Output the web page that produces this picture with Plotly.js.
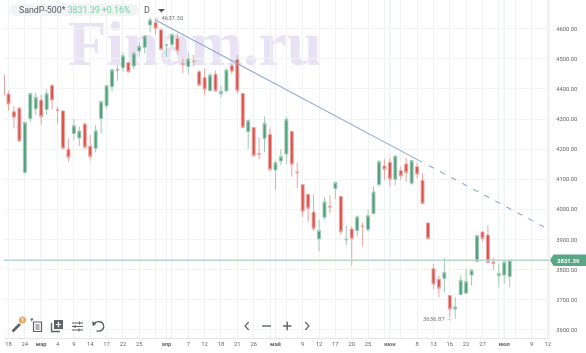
<!DOCTYPE html>
<html><head><meta charset="utf-8">
<script src="https://cdn.plot.ly/plotly-3.0.1.min.js"></script>
<style>
html,body{margin:0;padding:0;background:#fff;overflow:hidden}
#wrap{position:relative;width:586px;height:353px;filter:blur(0.4px)}
#wm{position:absolute;left:68px;top:4px;font:bold 63px/80px "Liberation Serif",serif;letter-spacing:0;color:#e8e2f4;white-space:nowrap}
#chart{position:absolute;left:0;top:0;width:586px;height:353px}
</style></head>
<body><div id="wrap"><div id="wm">Finam.ru</div><div id="chart"></div></div>
<script>
const opens=[4446,4383,4324,4336,4123,4302,4334,4363,4332,4411,
4331,4327,4200,4252,4237,4283,4210,4203,4302,4344,
4407,4462,4470,4487,4476,4526,4538,4612,4620,4596,
4545,4548,4568,4484,4474,4493,4457,4437,4394,4449,
4384,4393,4477,4498,4385,4258,4272,4185,4236,4249,
4131,4161,4184,4259,4124,4082,4050,3991,3902,3974,
4010,4069,4043,3899,3935,3930,3945,3933,3986,4083,
4144,4156,4100,4129,4151,4087,4142,4096,3955,3803,
3768,3771,3714,3669,3717,3722,3782,3827,3925,3915,
3825,3780,3782,3777];
const highs=[4446,4394,4343,4341,4291,4385,4388,4380,4399,4416,
4341,4327,4236,4300,4275,4289,4247,4280,4358,4411,
4468,4479,4521,4490,4524,4557,4579,4637.3,4629,4601,
4551,4585,4585,4502,4521,4513,4463,4468,4454,4461,
4410,4468,4485,4513,4385,4299,4272,4239,4308,4269,
4161,4200,4308,4259,4156,4082,4050,4049,3966,4041,
4047,4090,4043,3946,3944,3980,3957,3999,4077,4164,
4167,4170,4177,4142,4170,4164,4156,4121,3958,3819,
3780,3839,3714,3709,3780,3803,3803,3913,3927,3946,
3839,3820,3831,3832];
const lows=[4380,4328,4269,4225,4118,4289,4313,4280,4313,4332,
4286,4199,4158,4230,4210,4200,4162,4189,4252,4336,
4391,4427,4457,4454,4465,4507,4518,4588,4579,4529,
4507,4538,4513,4452,4449,4474,4410,4380,4394,4391,
4372,4393,4449,4383,4269,4200,4175,4166,4189,4125,
4064,4147,4150,4109,4071,3975,3958,3930,3861,3966,
3986,4034,3916,3880,3813,3911,3877,3925,3986,4075,
4098,4075,4081,4098,4092,4081,4103,4018,3903,3736,
3708,3725,3640,3636.87,3717,3722,3747,3827,3892,3822,
3800,3742,3753,3742];
const closes=[4380,4350,4306,4227,4289,4385,4372,4308,4385,4363,
4329,4203,4173,4278,4260,4206,4175,4261,4358,4411,
4463,4464,4510,4457,4518,4542,4576,4629,4601,4531,
4547,4581,4527,4482,4499,4491,4413,4399,4446,4393,
4392,4463,4459,4394,4272,4295,4178,4183,4286,4133,
4155,4175,4299,4150,4122,3994,4003.5,3936,3930,4025,
4008,4090,3926,3901,3903,3975,3943,3979,4058,4158,
4133,4101,4177,4111,4122,4162,4117,4019,3903,3752,
3738,3791,3669,3676,3764.5,3761,3798,3913,3903,3824,
3821,3787,3825,3831.39];
const barIndex=opens.map((_,i)=>i);
const gridBars=[1,4,7,10,13,16,19,22,25,28,30,31,34,37,40,43,46,49,50,52,55,58,61,64,67,70,71,73,76,79,82,85,88,91,92,94,97,100];
const gridLabels=['18','24','<b>мар</b>','4','9','14','17','22','25','','<b>апр</b>','','7','12','18','21','26','','<b>май</b>','','9','12','17','20','25','','<b>июн</b>','','8','13','16','22','27','','<b>июл</b>','','9','12'];
const monthBars=[7,30,50,71,92];
const priceTicks=[3600,3700,3800,3900,4000,4100,4200,4300,4400,4500,4600];
const priceLabels=priceTicks.map(v=>v.toFixed(2));
const lastPrice=3831.39, maxPrice=4637.30, minPrice=3636.87;
const trendSolidX=[27.9,76.9], trendSolidY=[4630,4157];
const trendDashX=[78.2,99.3], trendDashY=[4145,3942];

// page-pixel helpers for interface furniture (not data)
const L=4,R=549,T=0,B=338;
const px=x=>(x-L)/(R-L), py=y=>(B-y)/(B-T);
const path=d=>d.replace(/(-?[\d.]+)[ ,](-?[\d.]+)/g,(m,a,b)=>px(+a)+','+py(+b));
const ui=(d,o)=>Object.assign({type:'path',xref:'paper',yref:'paper',path:path(d),line:{width:0}},o);
const ink='#5f6368';
const stroke=(d,w)=>ui(d,{line:{color:ink,width:w||1.3}});
const fill=(d,c)=>ui(d,{fillcolor:c||ink,line:{width:0}});

const shapes=[];
monthBars.forEach(b=>shapes.push({type:'line',xref:'x',yref:'paper',x0:b,x1:b,y0:0,y1:1,layer:'below',line:{color:'#e2e5ea',width:1}}));
shapes.push({type:'line',xref:'paper',yref:'y',x0:0,x1:1,y0:lastPrice,y1:lastPrice,layer:'above',line:{color:'#b7d8c7',width:1.6}});
shapes.push({type:'line',xref:'paper',yref:'paper',x0:1,x1:1,y0:0,y1:1,line:{color:'#e3e6ea',width:1}});
// header pill
shapes.push(fill('M16,4 L132,4 C136,4 138.500,7 138.500,10 C138.500,13 136,16 132,16 L16,16 C12,16 9.500,13 9.500,10 C9.500,7 12,4 16,4 Z','#f2f3f5'));
// timeframe caret
shapes.push(fill('M158,9 L165,9 L161.500,12.500 Z','#555555'));
// price tag
shapes.push({type:'path',xref:'paper',yref:'paper',fillcolor:'#5ba684',line:{width:0},
 path:path('M550,260.200 L553.500,254.500 L586,254.500 L586,266 L553.500,266 Z')});
// wand
shapes.push(stroke('M12.500,331.500 L20,324',2.6));
shapes.push({type:'circle',xref:'paper',yref:'paper',x0:px(19),x1:px(26),y0:py(323.500),y1:py(316.500),fillcolor:'#f0a455',line:{width:0}});
// list
shapes.push(fill('M30,318.500 L33.500,318.500 L31.800,321.500 Z'));
shapes.push(stroke('M33.500,322 L41.500,322 L41.500,331.500 L33.500,331.500 Z M35.500,325 L39.500,325 M35.500,327 L39.500,327 M35.500,329 L39.500,329',1.2));
// plus square
shapes.push(stroke('M51.500,323 L51.500,331.500 L60,331.500',1.3));
shapes.push(fill('M54,320 L63,320 L63,329 L54,329 Z'));
shapes.push(ui('M58.500,321.800 L58.500,327.200 M55.800,324.500 L61.200,324.500',{line:{color:'#ffffff',width:1.2}}));
// sliders
shapes.push(stroke('M72,323 L83,323 M72,326.500 L83,326.500 M72,330 L83,330 M79.500,321.500 L79.500,324.500 M75,325 L75,328 M79,328.500 L79,331.500',1.1));
// undo
shapes.push(stroke('M94,323.500 C97,320.500 103,321 103.700,326 C104,330 100,332 96.500,330.800',1.3));
shapes.push(fill('M92,321.300 L96.500,323.800 L92.800,326.300 Z'));
// navigation
shapes.push(stroke('M248.700,322 L245,326 L248.700,330',1.2));
shapes.push(stroke('M262,326 L271,326',1.4));
shapes.push(stroke('M283,326 L291.500,326 M287.200,321.800 L287.200,330.200',1.4));
shapes.push(stroke('M305.300,322 L309,326 L305.300,330',1.2));

const smallFont={family:'Roboto, sans-serif',size:6,color:'#777777'};
const annotations=[
 {xref:'paper',yref:'paper',x:px(17),y:py(10),xanchor:'left',yanchor:'middle',showarrow:false,
  text:'<span style="color:#55595f">SandP-500*</span> <span style="color:#78d3a3">'+lastPrice.toFixed(2)+' +0.16%</span>',
  font:{family:'Roboto, sans-serif',size:8.8}},
 {xref:'paper',yref:'paper',x:px(147),y:py(10),xanchor:'center',yanchor:'middle',showarrow:false,text:'D',font:{family:'Roboto, sans-serif',size:9,color:'#55595f'}},
 {xref:'x',yref:'y',x:27.3,y:maxPrice,xanchor:'left',yanchor:'middle',showarrow:false,text:'← '+maxPrice.toFixed(2),font:smallFont},
 {xref:'x',yref:'y',x:82.7,y:minPrice,xanchor:'right',yanchor:'middle',showarrow:false,text:minPrice.toFixed(2)+' →',font:smallFont},
 {xref:'paper',yref:'paper',x:px(568.500),y:py(260.300),xanchor:'center',yanchor:'middle',showarrow:false,text:'<b>'+lastPrice.toFixed(2)+'</b>',font:{family:'Roboto, sans-serif',size:6,color:'#ffffff'}},
 {xref:'paper',yref:'paper',x:px(22.500),y:py(320),xanchor:'center',yanchor:'middle',showarrow:false,text:'<b>1</b>',font:{family:'Roboto, sans-serif',size:5.500,color:'#ffffff'}}
];

const traces=[
 {type:'candlestick',x:barIndex,open:opens,high:highs,low:lows,close:closes,whiskerwidth:0,hoverinfo:'skip',
  increasing:{line:{color:'#9dc9b4',width:1},fillcolor:'#4f9e7c'},
  decreasing:{line:{color:'#eba39f',width:1},fillcolor:'#da504d'}},
 {type:'scatter',mode:'lines',x:trendSolidX,y:trendSolidY,hoverinfo:'skip',line:{color:'#8fa7d0',width:1.1}},
 {type:'scatter',mode:'lines',x:trendDashX,y:trendDashY,hoverinfo:'skip',line:{color:'#8fa7d0',width:1.1,dash:'5.5px,7px'}}
];
const layout={
 width:586,height:353,showlegend:false,paper_bgcolor:'rgba(0,0,0,0)',plot_bgcolor:'rgba(0,0,0,0)',
 margin:{l:L,r:586-R,t:T,b:353-B,pad:0},boxgap:0.24,dragmode:false,
 xaxis:{type:'linear',range:[(L-3.05)/5.448,(R-3.05)/5.448],tickmode:'array',tickvals:gridBars,ticktext:gridLabels,
  showgrid:true,gridcolor:'#f0f3f5',gridwidth:1,zeroline:false,showline:true,linecolor:'#e3e6ea',linewidth:1,
  ticks:'',tickangle:0,tickfont:{family:'Roboto, sans-serif',size:5.800,color:'#666666'},rangeslider:{visible:false},fixedrange:true},
 yaxis:{side:'right',range:[3573,4695.3],tickmode:'array',tickvals:priceTicks,ticktext:priceLabels,
  showgrid:true,gridcolor:'#f1f3f5',gridwidth:1,zeroline:false,showline:false,
  ticks:'outside',ticklen:5,tickcolor:'rgba(0,0,0,0)',tickfont:{family:'Roboto, sans-serif',size:5.800,color:'#666666'},fixedrange:true},
 shapes,annotations
};
Plotly.newPlot('chart',traces,layout,{displayModeBar:false,staticPlot:true});
</script></body></html>
